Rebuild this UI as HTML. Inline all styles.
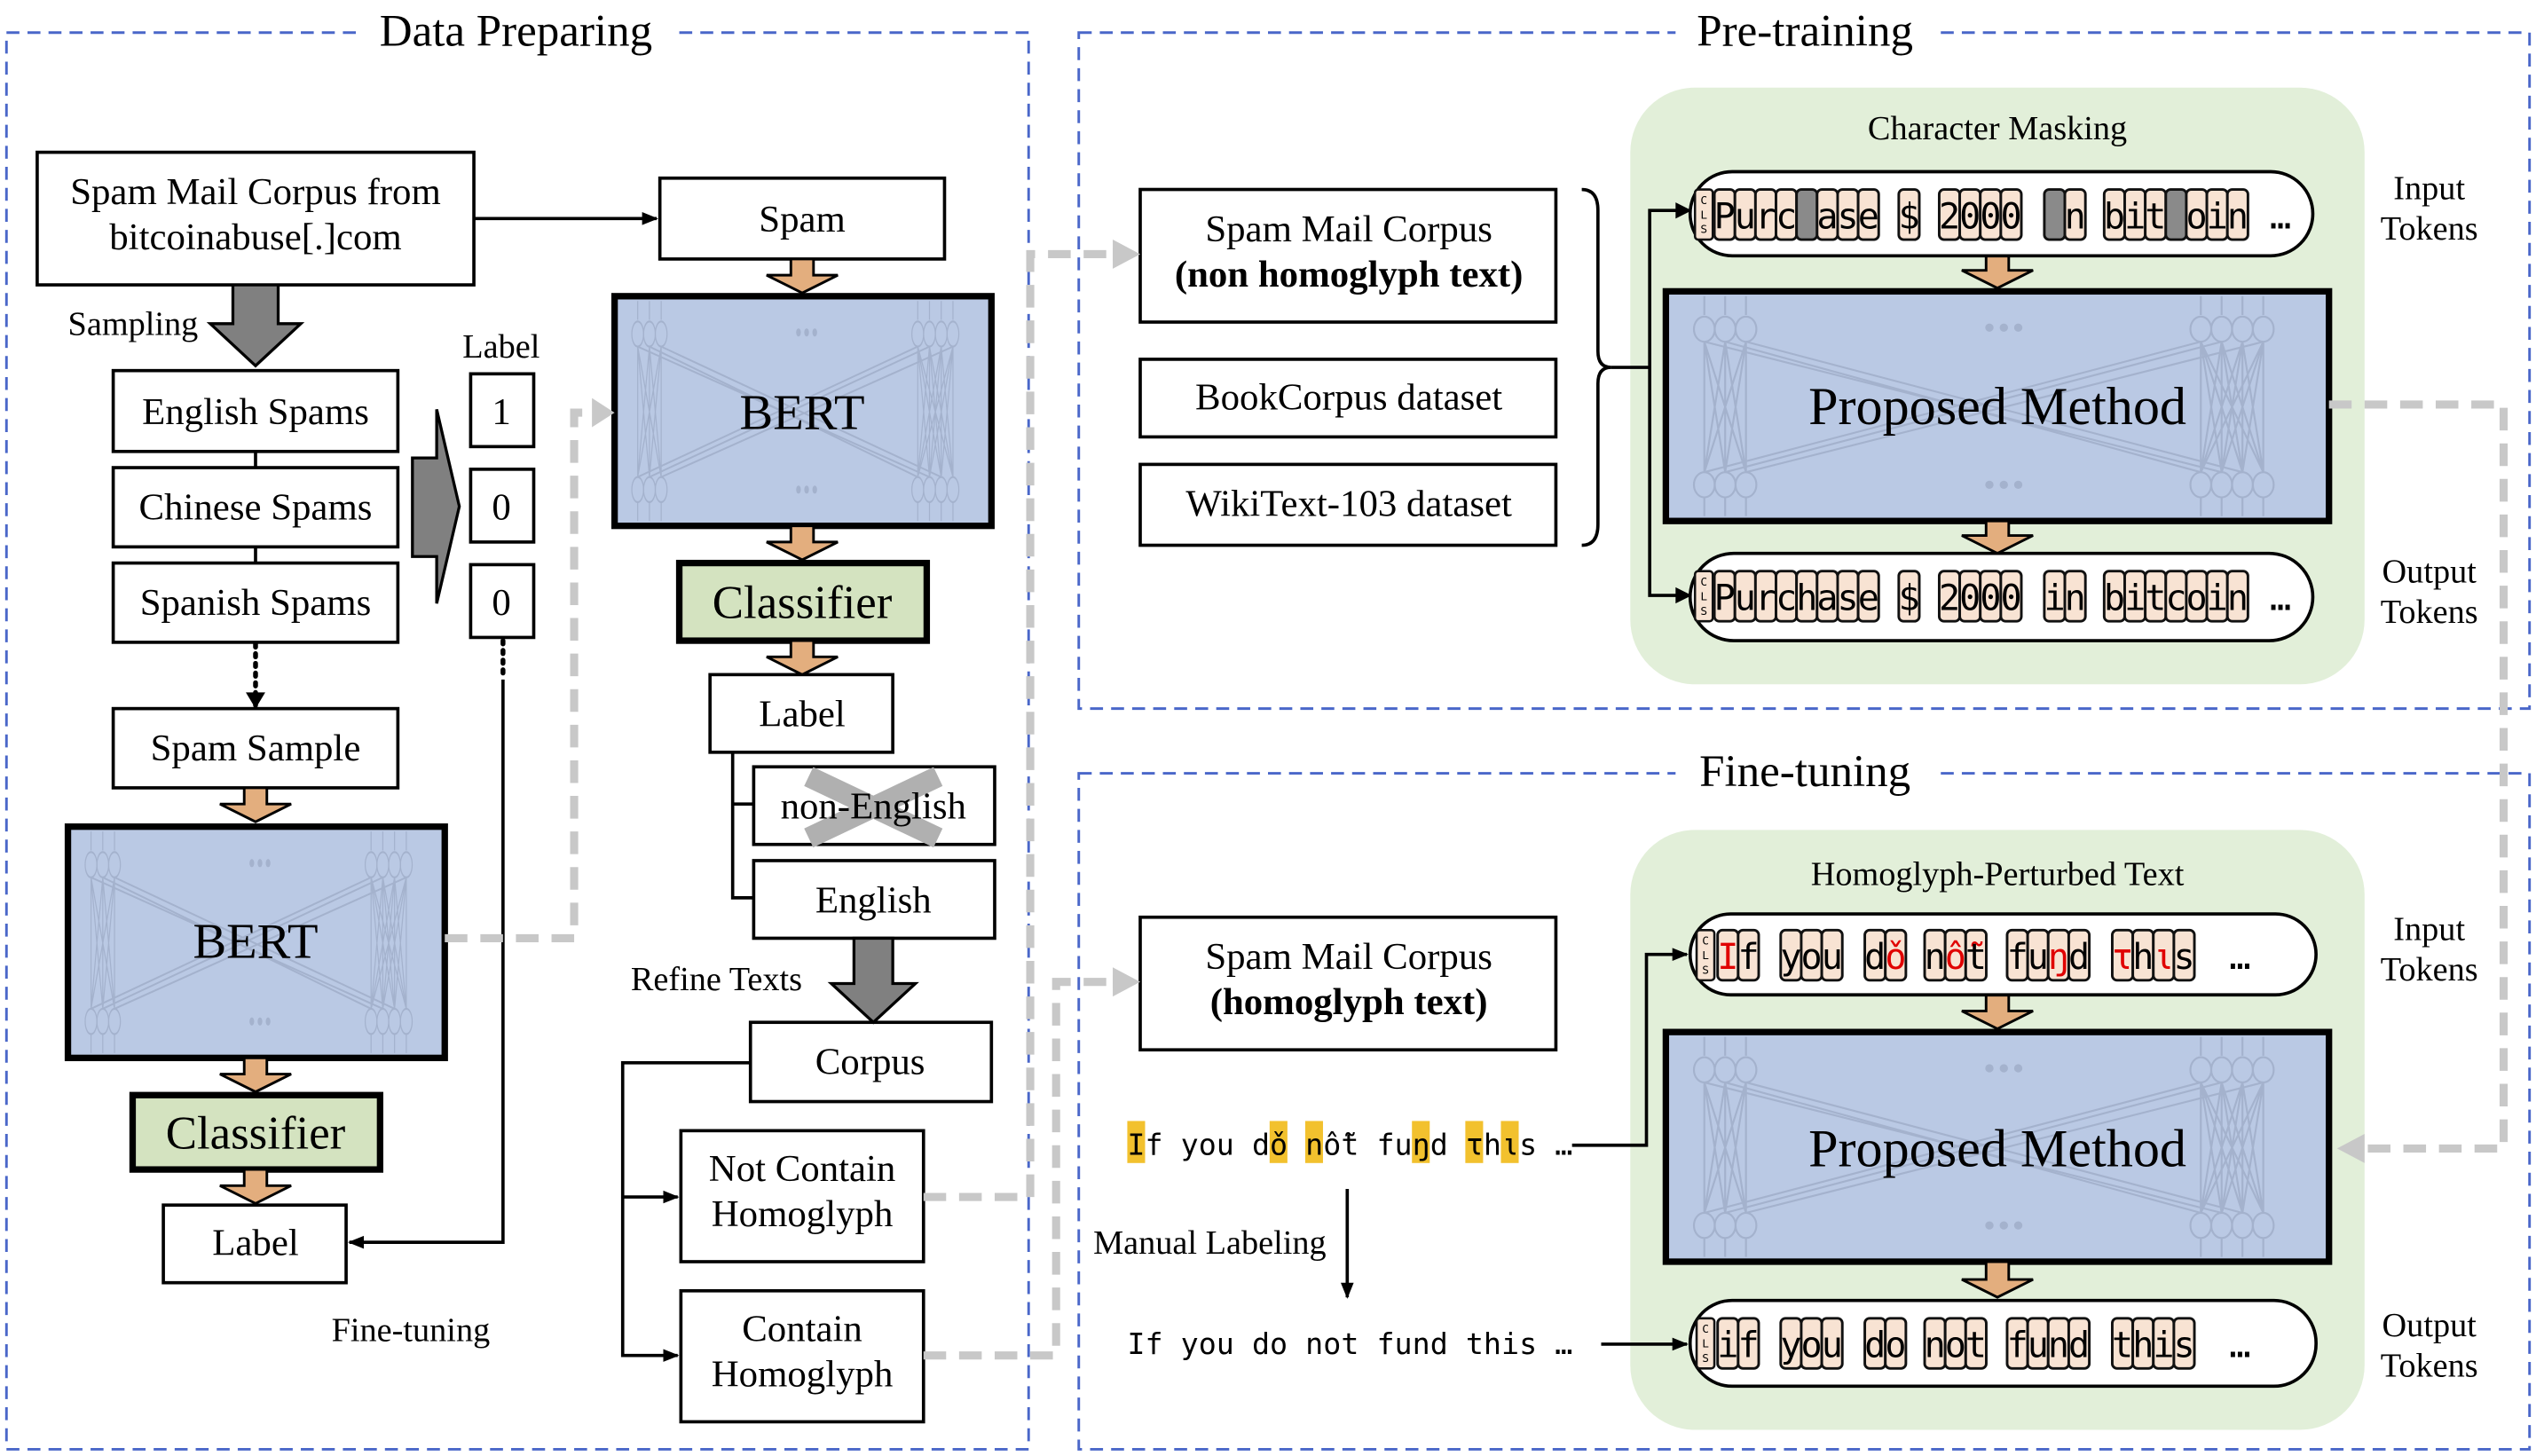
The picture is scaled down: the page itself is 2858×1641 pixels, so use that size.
<!DOCTYPE html>
<html><head><meta charset="utf-8"><style>
html,body{margin:0;padding:0;background:#fff;}
svg{display:block;}
.s{font-family:"Liberation Serif",serif;fill:#000;}
.m{font-family:"DejaVu Sans Mono","Liberation Mono",monospace;fill:#000;}
</style></head><body>
<svg width="2858" height="1641" viewBox="0 0 1568 900" xmlns="http://www.w3.org/2000/svg">
<defs>
<symbol id="net" viewBox="0 0 410 142" preserveAspectRatio="none">
<g stroke="#a4b2cd" stroke-width="1.2" fill="none">
<ellipse cx="22" cy="22" rx="6.5" ry="8"/><ellipse cx="35" cy="22" rx="6.5" ry="8"/><ellipse cx="48" cy="22" rx="6.5" ry="8"/>
<ellipse cx="22" cy="121" rx="6.5" ry="8"/><ellipse cx="35" cy="121" rx="6.5" ry="8"/><ellipse cx="48" cy="121" rx="6.5" ry="8"/>
<ellipse cx="332" cy="22" rx="6.5" ry="8"/><ellipse cx="345" cy="22" rx="6.5" ry="8"/><ellipse cx="358" cy="22" rx="6.5" ry="8"/><ellipse cx="371" cy="22" rx="6.5" ry="8"/>
<ellipse cx="332" cy="121" rx="6.5" ry="8"/><ellipse cx="345" cy="121" rx="6.5" ry="8"/><ellipse cx="358" cy="121" rx="6.5" ry="8"/><ellipse cx="371" cy="121" rx="6.5" ry="8"/>
<path d="M22 30L22 113M22 30L35 113M22 30L48 113M35 30L22 113M35 30L35 113M35 30L48 113M48 30L22 113M48 30L35 113M48 30L48 113"/>
<path d="M332 30L332 113M332 30L345 113M332 30L358 113M332 30L371 113M345 30L332 113M345 30L345 113M345 30L358 113M345 30L371 113M358 30L332 113M358 30L345 113M358 30L358 113M358 30L371 113M371 30L332 113M371 30L345 113M371 30L358 113M371 30L371 113"/>
<path d="M35 30L332 113M48 30L358 113M22 30L345 113M345 30L35 113M371 30L48 113M332 30L22 113"/>
<path d="M22 1V13M35 1V13M48 1V13M332 1V13M345 1V13M358 1V13M371 1V13M22 129V141M35 129V141M48 129V141M332 129V141M345 129V141M358 129V141M371 129V141"/>
</g>
<g fill="#a4b2cd"><circle cx="200" cy="21" r="2.6"/><circle cx="209" cy="21" r="2.6"/><circle cx="218" cy="21" r="2.6"/><circle cx="200" cy="121" r="2.6"/><circle cx="209" cy="121" r="2.6"/><circle cx="218" cy="121" r="2.6"/></g>
</symbol>
<rect id="c" width="12.7" height="31" rx="3" fill="#f8e3d3" stroke="#111" stroke-width="1.6"/>
<rect id="g" width="12.7" height="31" rx="3" fill="#8a8a8a" stroke="#111" stroke-width="1.6"/>
<g id="cls"><rect width="11" height="31" rx="2" fill="#f8e3d3" stroke="#111" stroke-width="1.4"/><text x="5.5" y="9" font-size="7" text-anchor="middle" class="m">C</text><text x="5.5" y="18" font-size="7" text-anchor="middle" class="m">L</text><text x="5.5" y="27" font-size="7" text-anchor="middle" class="m">S</text></g>
<marker id="ah" markerWidth="10" markerHeight="10" refX="9" refY="5" orient="auto" markerUnits="userSpaceOnUse"><path d="M0 1L10 5L0 9Z" fill="#000"/></marker>
</defs>

<g fill="none" stroke="#4a67c9" stroke-width="1.6" stroke-dasharray="8 5">
<rect x="4" y="20" width="632" height="876"/>
<rect x="667" y="20" width="897" height="418"/>
<rect x="667" y="478" width="897" height="418"/>
</g>
<rect x="222" y="4" width="194" height="32" fill="#fff"/>
<text x="319" y="28" font-size="28" text-anchor="middle" class="s">Data Preparing</text>
<rect x="1036" y="4" width="160" height="32" fill="#fff"/>
<text x="1116" y="28" font-size="28" text-anchor="middle" class="s">Pre-training</text>
<rect x="1036" y="462" width="160" height="32" fill="#fff"/>
<text x="1116" y="486" font-size="28" text-anchor="middle" class="s">Fine-tuning</text>

<rect x="1008" y="54" width="454" height="369" rx="40" fill="#e2efd9"/>
<rect x="1008" y="513" width="454" height="371" rx="40" fill="#e2efd9"/>

<g stroke="#000" stroke-width="2" fill="#fff">
<rect x="23" y="94" width="270" height="82"/>
<rect x="408" y="110" width="176" height="50"/>
<rect x="70" y="229" width="176" height="50"/>
<rect x="70" y="289" width="176" height="49"/>
<rect x="70" y="348" width="176" height="49"/>
<rect x="291" y="231" width="39" height="45"/>
<rect x="291" y="290" width="39" height="45"/>
<rect x="291" y="349" width="39" height="45"/>
<rect x="70" y="438" width="176" height="49"/>
<rect x="101" y="745" width="113" height="48"/>
<rect x="439" y="417" width="113" height="48"/>
<rect x="466" y="474" width="149" height="48"/>
<rect x="466" y="532" width="149" height="48"/>
<rect x="464" y="632" width="149" height="49"/>
<rect x="421" y="699" width="150" height="81"/>
<rect x="421" y="798" width="150" height="81"/>
<rect x="705" y="117" width="257" height="82"/>
<rect x="705" y="222" width="257" height="48"/>
<rect x="705" y="287" width="257" height="50"/>
<rect x="705" y="567" width="257" height="82"/>
</g>
<line x1="158" y1="279" x2="158" y2="289" stroke="#000" stroke-width="2"/>
<line x1="158" y1="338" x2="158" y2="348" stroke="#000" stroke-width="2"/>

<g class="s" font-size="23.5" text-anchor="middle">
<text x="158" y="126">Spam Mail Corpus from</text>
<text x="158" y="154">bitcoinabuse[.]com</text>
<text x="496" y="143">Spam</text>
<text x="158" y="262">English Spams</text>
<text x="158" y="321">Chinese Spams</text>
<text x="158" y="380">Spanish Spams</text>
<text x="310" y="262">1</text>
<text x="310" y="321">0</text>
<text x="310" y="380">0</text>
<text x="158" y="470">Spam Sample</text>
<text x="158" y="776">Label</text>
<text x="496" y="449">Label</text>
<text x="540" y="564">English</text>
<text x="538" y="664">Corpus</text>
<text x="496" y="730">Not Contain</text>
<text x="496" y="758">Homoglyph</text>
<text x="496" y="829">Contain</text>
<text x="496" y="857">Homoglyph</text>
<text x="834" y="149">Spam Mail Corpus</text>
<text x="834" y="177" font-weight="bold">(non homoglyph text)</text>
<text x="834" y="253">BookCorpus dataset</text>
<text x="834" y="319">WikiText-103 dataset</text>
<text x="834" y="599">Spam Mail Corpus</text>
<text x="834" y="627" font-weight="bold">(homoglyph text)</text>
</g>
<g class="s" font-size="21">
<text x="42" y="207">Sampling</text>
<text x="286" y="221">Label</text>
<text x="205" y="829">Fine-tuning</text>
<text x="390" y="612">Refine Texts</text>
<text x="676" y="775">Manual Labeling</text>
<text x="1235" y="86" text-anchor="middle">Character Masking</text>
<text x="1235" y="547" text-anchor="middle">Homoglyph-Perturbed Text</text>
<text x="1502" y="123" text-anchor="middle">Input</text><text x="1502" y="148" text-anchor="middle">Tokens</text>
<text x="1502" y="360" text-anchor="middle">Output</text><text x="1502" y="385" text-anchor="middle">Tokens</text>
<text x="1502" y="581" text-anchor="middle">Input</text><text x="1502" y="606" text-anchor="middle">Tokens</text>
<text x="1502" y="826" text-anchor="middle">Output</text><text x="1502" y="851" text-anchor="middle">Tokens</text>
</g>

<path d="M500 480L580 518M500 518L580 480" stroke="#b0b0b0" stroke-width="13"/>
<text x="540" y="506" font-size="23.5" text-anchor="middle" class="s">non-English</text>
<path d="M453 465V555H466M453 497H466" fill="none" stroke="#000" stroke-width="2"/>

<g fill="#808080" stroke="#000" stroke-width="1.8">
<polygon points="144,176 172,176 172,200 186,200 158,226 130,200 144,200"/>
<polygon points="255,283 270,283 270,253 284,313 270,373 270,344 255,344"/>
<polygon points="528,580 552,580 552,608 566,608 540,632 514,608 528,608"/>
</g>

<rect x="42" y="511" width="233" height="143" fill="#bac9e4" stroke="#000" stroke-width="4"/>
<use href="#net" x="44" y="513" width="229" height="139"/>
<text x="158" y="592" font-size="31" text-anchor="middle" class="s">BERT</text>
<rect x="380" y="183" width="233" height="142" fill="#bac9e4" stroke="#000" stroke-width="4"/>
<use href="#net" x="382" y="185" width="229" height="138"/>
<text x="496" y="265" font-size="31" text-anchor="middle" class="s">BERT</text>
<rect x="1030" y="180" width="410" height="142" fill="#bac9e4" stroke="#000" stroke-width="4"/>
<use href="#net" x="1032" y="182" width="406" height="138"/>
<text x="1235" y="262" font-size="33" text-anchor="middle" class="s">Proposed Method</text>
<rect x="1030" y="638" width="410" height="142" fill="#bac9e4" stroke="#000" stroke-width="4"/>
<use href="#net" x="1032" y="640" width="406" height="138"/>
<text x="1235" y="721" font-size="33" text-anchor="middle" class="s">Proposed Method</text>

<rect x="82" y="677" width="153" height="46" fill="#d4e3c0" stroke="#000" stroke-width="4"/>
<text x="158" y="710" font-size="29" text-anchor="middle" class="s">Classifier</text>
<rect x="420" y="348" width="153" height="48" fill="#d4e3c0" stroke="#000" stroke-width="4"/>
<text x="496" y="382" font-size="29" text-anchor="middle" class="s">Classifier</text>

<g fill="#e3ae7e" stroke="#000" stroke-width="1.6">
<polygon points="151,487 165,487 165,497 180,497 158,508 136,497 151,497"/>
<polygon points="151,654 165,654 165,664 180,664 158,675 136,664 151,664"/>
<polygon points="151,723 165,723 165,733 180,733 158,744 136,733 151,733"/>
<polygon points="489,160 503,160 503,170 518,170 496,181 474,170 489,170"/>
<polygon points="489,325 503,325 503,335 518,335 496,346 474,335 489,335"/>
<polygon points="489,396 503,396 503,406 518,406 496,417 474,406 489,406"/>
<polygon points="1228,158 1242,158 1242,167 1257,167 1235,178 1213,167 1228,167"/>
<polygon points="1228,322 1242,322 1242,331 1257,331 1235,342 1213,331 1228,331"/>
<polygon points="1228,615 1242,615 1242,625 1257,625 1235,636 1213,625 1228,625"/>
<polygon points="1228,780 1242,780 1242,791 1257,791 1235,802 1213,791 1228,791"/>
</g>

<g fill="none" stroke="#000" stroke-width="2">
<line x1="293" y1="135" x2="406" y2="135" marker-end="url(#ah)"/>
<line x1="158" y1="398" x2="158" y2="436" stroke-dasharray="2 4" stroke-width="3" stroke-linecap="round"/>
<line x1="311" y1="396" x2="311" y2="420" stroke-dasharray="2 4" stroke-width="3" stroke-linecap="round"/>
<polyline points="311,420 311,768 216,768" marker-end="url(#ah)"/>
<polyline points="464,657 385,657 385,838 419,838" marker-end="url(#ah)"/>
<line x1="385" y1="740" x2="419" y2="740" marker-end="url(#ah)"/>
<path d="M978 117Q988 117 988 130V217Q988 227 996 227Q988 227 988 237V324Q988 337 978 337"/>
<line x1="996" y1="227" x2="1020" y2="227"/>
<polyline points="1043,130 1020,130 1020,368 1043,368"/>
<polyline points="972,708 1018,708 1018,590 1043,590" marker-end="url(#ah)"/>
<line x1="833" y1="735" x2="833" y2="802" marker-end="url(#ah)"/>
<line x1="990" y1="831" x2="1043" y2="831" marker-end="url(#ah)"/>
</g>
<path d="M1036 125L1046 130L1036 135ZM1036 363L1046 368L1036 373Z" fill="#000"/>
<path d="M152 428L158 438L164 428Z" fill="#000"/>

<g fill="none" stroke="#c8c8c8" stroke-width="5" stroke-dasharray="14 8">
<polyline points="275,580 355,580 355,255 368,255"/>
<polyline points="571,740 637,740 637,157 690,157"/>
<polyline points="571,838 653,838 653,607 690,607"/>
<polyline points="1440,250 1548,250 1548,710 1460,710"/>
</g>
<g fill="#c8c8c8">
<path d="M366 246L380 255L366 264Z"/>
<path d="M688 148L705 157L688 166Z"/>
<path d="M688 598L705 607L688 616Z"/>
<path d="M1462 701L1445 710L1462 719Z"/>
</g>

<g fill="#fff" stroke="#000" stroke-width="2">
<rect x="1045" y="106" width="385" height="52" rx="26"/>
<rect x="1045" y="342" width="385" height="54" rx="27"/>
<rect x="1045" y="565" width="387" height="50" rx="25"/>
<rect x="1045" y="804" width="387" height="53" rx="26"/>
</g>

<use href="#cls" x="1048" y="117"/>
<use href="#c" x="1060" y="117"/><use href="#c" x="1072.7" y="117"/><use href="#c" x="1085.4" y="117"/><use href="#c" x="1098.1" y="117"/><use href="#g" x="1110.8" y="117"/><use href="#c" x="1123.5" y="117"/><use href="#c" x="1136.2" y="117"/><use href="#c" x="1148.9" y="117"/>
<use href="#c" x="1174" y="117"/>
<use href="#c" x="1199" y="117"/><use href="#c" x="1211.7" y="117"/><use href="#c" x="1224.4" y="117"/><use href="#c" x="1237.1" y="117"/>
<use href="#g" x="1264" y="117"/><use href="#c" x="1276.7" y="117"/>
<use href="#c" x="1301" y="117"/><use href="#c" x="1313.7" y="117"/><use href="#c" x="1326.4" y="117"/><use href="#g" x="1339.1" y="117"/><use href="#c" x="1351.8" y="117"/><use href="#c" x="1364.5" y="117"/><use href="#c" x="1377.2" y="117"/>
<g class="m" font-size="22" text-anchor="middle">
<text x="1066.4 1079.1 1091.8 1104.5" y="141">Purc</text>
<text x="1129.9 1142.6 1155.3" y="141">ase</text>
<text x="1180.4" y="141">$</text>
<text x="1205.4 1218.1 1230.8 1243.5" y="141">2000</text>
<text x="1283.1" y="141">n</text>
<text x="1307.4 1320.1 1332.8" y="141">bit</text>
<text x="1358.2 1370.9 1383.6" y="141">oin</text>
<text x="1410" y="141">…</text>
</g>

<use href="#cls" x="1048" y="353"/>
<use href="#c" x="1060" y="353"/><use href="#c" x="1072.7" y="353"/><use href="#c" x="1085.4" y="353"/><use href="#c" x="1098.1" y="353"/><use href="#c" x="1110.8" y="353"/><use href="#c" x="1123.5" y="353"/><use href="#c" x="1136.2" y="353"/><use href="#c" x="1148.9" y="353"/>
<use href="#c" x="1174" y="353"/>
<use href="#c" x="1199" y="353"/><use href="#c" x="1211.7" y="353"/><use href="#c" x="1224.4" y="353"/><use href="#c" x="1237.1" y="353"/>
<use href="#c" x="1264" y="353"/><use href="#c" x="1276.7" y="353"/>
<use href="#c" x="1301" y="353"/><use href="#c" x="1313.7" y="353"/><use href="#c" x="1326.4" y="353"/><use href="#c" x="1339.1" y="353"/><use href="#c" x="1351.8" y="353"/><use href="#c" x="1364.5" y="353"/><use href="#c" x="1377.2" y="353"/>
<g class="m" font-size="22" text-anchor="middle">
<text x="1066.4 1079.1 1091.8 1104.5 1117.2 1129.9 1142.6 1155.3" y="377">Purchase</text>
<text x="1180.4" y="377">$</text>
<text x="1205.4 1218.1 1230.8 1243.5" y="377">2000</text>
<text x="1270.4 1283.1" y="377">in</text>
<text x="1307.4 1320.1 1332.8 1345.5 1358.2 1370.9 1383.6" y="377">bitcoin</text>
<text x="1410" y="377">…</text>
</g>

<use href="#cls" x="1049" y="575"/>
<use href="#c" x="1062" y="575"/><use href="#c" x="1074.7" y="575"/>
<use href="#c" x="1101" y="575"/><use href="#c" x="1113.7" y="575"/><use href="#c" x="1126.4" y="575"/>
<use href="#c" x="1153" y="575"/><use href="#c" x="1165.7" y="575"/>
<use href="#c" x="1190" y="575"/><use href="#c" x="1202.7" y="575"/><use href="#c" x="1215.4" y="575"/>
<use href="#c" x="1241" y="575"/><use href="#c" x="1253.7" y="575"/><use href="#c" x="1266.4" y="575"/><use href="#c" x="1279.1" y="575"/>
<use href="#c" x="1306" y="575"/><use href="#c" x="1318.7" y="575"/><use href="#c" x="1331.4" y="575"/><use href="#c" x="1344.1" y="575"/>
<g class="m" font-size="22" text-anchor="middle">
<text y="599"><tspan x="1068.4" fill="#e00000">I</tspan><tspan x="1081.1">f</tspan></text>
<text x="1107.4 1120.1 1132.8" y="599">you</text>
<text y="599"><tspan x="1159.4">d</tspan><tspan x="1172.1" fill="#e00000">ǒ</tspan></text>
<text y="599"><tspan x="1196.4">n</tspan><tspan x="1209.1" fill="#e00000">ỗ</tspan><tspan x="1221.8">t</tspan></text>
<text y="599"><tspan x="1247.4">f</tspan><tspan x="1260.1">u</tspan><tspan x="1272.8" fill="#e00000">ŋ</tspan><tspan x="1285.5">d</tspan></text>
<text y="599"><tspan x="1312.4" fill="#e00000">τ</tspan><tspan x="1325.1">h</tspan><tspan x="1337.8" fill="#e00000">ι</tspan><tspan x="1350.5">s</tspan></text>
<text x="1385" y="599">…</text>
</g>

<use href="#cls" x="1049" y="815"/>
<use href="#c" x="1062" y="815"/><use href="#c" x="1074.7" y="815"/>
<use href="#c" x="1101" y="815"/><use href="#c" x="1113.7" y="815"/><use href="#c" x="1126.4" y="815"/>
<use href="#c" x="1153" y="815"/><use href="#c" x="1165.7" y="815"/>
<use href="#c" x="1190" y="815"/><use href="#c" x="1202.7" y="815"/><use href="#c" x="1215.4" y="815"/>
<use href="#c" x="1241" y="815"/><use href="#c" x="1253.7" y="815"/><use href="#c" x="1266.4" y="815"/><use href="#c" x="1279.1" y="815"/>
<use href="#c" x="1306" y="815"/><use href="#c" x="1318.7" y="815"/><use href="#c" x="1331.4" y="815"/><use href="#c" x="1344.1" y="815"/>
<g class="m" font-size="22" text-anchor="middle">
<text x="1068.4 1081.1" y="839">if</text>
<text x="1107.4 1120.1 1132.8" y="839">you</text>
<text x="1159.4 1172.1" y="839">do</text>
<text x="1196.4 1209.1 1221.8" y="839">not</text>
<text x="1247.4 1260.1 1272.8 1285.5" y="839">fund</text>
<text x="1312.4 1325.1 1337.8 1350.5" y="839">this</text>
<text x="1385" y="839">…</text>
</g>

<g fill="#f2c12e">
<rect x="697" y="693" width="11" height="26"/>
<rect x="785" y="693" width="11" height="26"/>
<rect x="807" y="693" width="11" height="26"/>
<rect x="873" y="693" width="11" height="26"/>
<rect x="906" y="693" width="11" height="26"/>
<rect x="928" y="693" width="11" height="26"/>
</g>
<text x="697" y="714" font-size="18.3" class="m" xml:space="preserve">If you dǒ nỗt fuŋd τhιs …</text>
<text x="697" y="837" font-size="18.3" class="m" xml:space="preserve">If you do not fund this …</text>
</svg>
</body></html>
